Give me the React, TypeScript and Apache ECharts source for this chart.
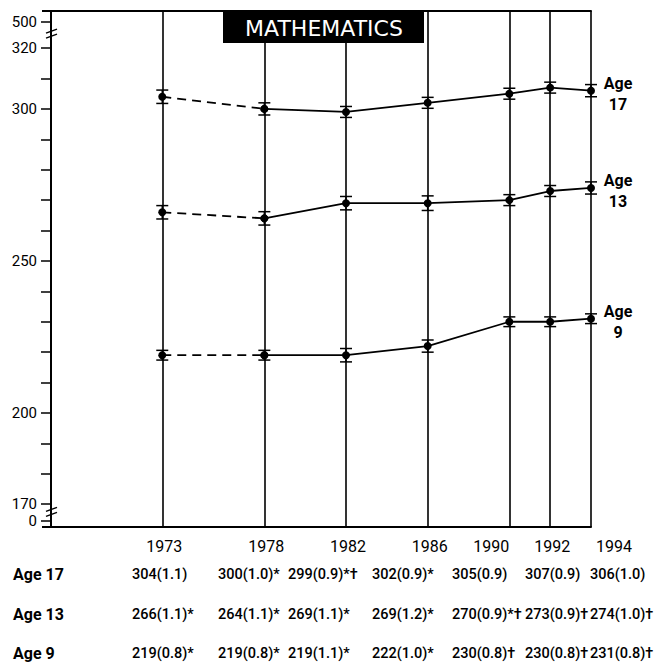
import React, { useEffect, useRef } from 'react';
import * as echarts from 'echarts';

// ---- data ----
const years = [1973, 1978, 1982, 1986, 1990, 1992, 1994];
const age17 = [304, 300, 299, 302, 305, 307, 306];
const age17SE = [1.1, 1.0, 0.9, 0.9, 0.9, 0.9, 1.0];
const age17Marks = ['', '*', '*†', '*', '', '', ''];
const age13 = [266, 264, 269, 269, 270, 273, 274];
const age13SE = [1.1, 1.1, 1.1, 1.2, 0.9, 0.9, 1.0];
const age13Marks = ['*', '*', '*', '*', '*†', '†', '†'];
const age9 = [219, 219, 219, 222, 230, 230, 231];
const age9SE = [0.8, 0.8, 1.1, 1.0, 0.8, 0.8, 0.8];
const age9Marks = ['*', '*', '*', '*', '†', '†', '†'];
const ageNames = ['Age 17', 'Age 13', 'Age 9'];
const ageShort = ['17', '13', '9'];

const yMinorTicks = [170, 180, 190, 200, 210, 220, 230, 240, 250, 260, 270, 280, 290, 300, 310, 320];
const yLabelTicks = [170, 200, 250, 300, 320];
// broken-scale tick labels (drawn at the ends of the axis)
const brokenLowLabel = '0';
const brokenHighLabel = '500';

const titleText = 'MATHEMATICS';

// ---- layout (not data) ----
const Y_MIN = 162.5;
const Y_MAX = 332.2;
const X_MIN = 1967.55;
const X_MAX = 1994;
const BROKEN_LOW_POS = 164.5;
const BROKEN_HIGH_POS = 328.6;
const BREAK_LOW = 167.3;
const BREAK_HIGH = 324.6;
const colX = [132, 218, 288, 372, 452, 525, 590];
const rowY = [574, 614, 653];

const FONT = 'Roboto, "Liberation Sans", sans-serif';

export default function App() {
  const ref = useRef<HTMLDivElement>(null);

  useEffect(() => {
    document.body.style.margin = '0';
    if (!ref.current) return;
    const chart = echarts.init(ref.current, null, { renderer: 'svg' });

    const seriesSets = [
      { vals: age17, se: age17SE, marks: age17Marks },
      { vals: age13, se: age13SE, marks: age13Marks },
      { vals: age9, se: age9SE, marks: age9Marks },
    ];

    const series: any[] = [];
    seriesSets.forEach((s, i) => {
      const pts = years.map((y, k) => [y, s.vals[k]]);
      series.push({
        type: 'line',
        name: ageNames[i] + ' dashed',
        data: pts.slice(0, 2),
        symbol: 'circle',
        symbolSize: 8,
        itemStyle: { color: '#000' },
        lineStyle: { color: '#000', width: 1.8, type: [9, 6] },
        z: 5,
      });
      series.push({
        type: 'line',
        name: ageNames[i],
        data: pts.slice(1),
        symbol: 'circle',
        symbolSize: 8,
        itemStyle: { color: '#000' },
        lineStyle: { color: '#000', width: 1.8 },
        endLabel: {
          show: true,
          formatter: 'Age\n' + ageShort[i],
          color: '#000',
          fontFamily: FONT,
          fontSize: 16,
          fontWeight: 'bold',
          lineHeight: 21,
          align: 'center',
          distance: 27,
          offset: [0, 3],
        },
        z: 5,
      });
      series.push({
        type: 'custom',
        name: ageNames[i] + ' error',
        data: years.map((y, k) => [y, s.vals[k], s.se[k]]),
        z: 4,
        renderItem: (params: any, api: any) => {
          const x = api.value(0);
          const y = api.value(1);
          const se = api.value(2);
          const top = api.coord([x, y + 2 * se]);
          const bot = api.coord([x, y - 2 * se]);
          const hw = 6;
          const st = { stroke: '#000', lineWidth: 1.5 };
          return {
            type: 'group',
            children: [
              { type: 'line', shape: { x1: top[0], y1: top[1], x2: bot[0], y2: bot[1] }, style: st },
              { type: 'line', shape: { x1: top[0] - hw, y1: top[1], x2: top[0] + hw, y2: top[1] }, style: st },
              { type: 'line', shape: { x1: bot[0] - hw, y1: bot[1], x2: bot[0] + hw, y2: bot[1] }, style: st },
            ],
          };
        },
      });
    });

    // vertical year lines
    series[1].markLine = {
      silent: true,
      symbol: ['none', 'none'],
      label: { show: false },
      lineStyle: { type: 'solid', color: '#000', width: 1.6 },
      data: years.map((y) => ({ xAxis: y })),
      z: 1,
    };

    const option: any = {
      animation: false,
      backgroundColor: '#fff',
      grid: { left: 51, top: 11, right: 79, bottom: 145, containLabel: false },
      xAxis: [
        {
          type: 'value',
          min: X_MIN,
          max: X_MAX,
          axisLine: { show: true, lineStyle: { color: '#000', width: 2 } },
          axisTick: { show: false },
          splitLine: { show: false },
          axisLabel: {
            customValues: years,
            formatter: (v: number) => {
              const y = Math.round(v);
              if (y === 1990) return `{l|${y}}`;
              if (y === 1994) return `{r|${y}}`;
              return `{n|${y}}`;
            },
            rich: {
              n: { fontFamily: FONT, fontSize: 16, color: '#000', padding: [0, 0, 0, 4] },
              l: { fontFamily: FONT, fontSize: 16, color: '#000', padding: [0, 36, 0, 0] },
              r: { fontFamily: FONT, fontSize: 16, color: '#000', padding: [0, 0, 0, 46] },
            },
            color: '#000',
            fontFamily: FONT,
            fontSize: 16,
            margin: 11,
          },
        },
        {
          type: 'value',
          position: 'top',
          min: X_MIN,
          max: X_MAX,
          axisLine: { show: true, lineStyle: { color: '#000', width: 2 } },
          axisTick: { show: false },
          axisLabel: { show: false },
          splitLine: { show: false },
        },
      ],
      yAxis: {
        type: 'value',
        min: Y_MIN,
        max: Y_MAX,
        axisLine: { show: true, lineStyle: { color: '#000', width: 2 } },
        axisTick: {
          show: true,
          inside: false,
          length: 10,
          customValues: [BROKEN_LOW_POS, ...yMinorTicks, BROKEN_HIGH_POS],
          lineStyle: { color: '#000', width: 1.5 },
        },
        splitLine: { show: false },
        axisLabel: {
          customValues: [BROKEN_LOW_POS, ...yLabelTicks, BROKEN_HIGH_POS],
          formatter: (v: number) => {
            if (Math.abs(v - BROKEN_LOW_POS) < 0.01) return brokenLowLabel;
            if (Math.abs(v - BROKEN_HIGH_POS) < 0.01) return brokenHighLabel;
            return String(Math.round(v));
          },
          color: '#000',
          fontFamily: FONT,
          fontSize: 15,
          margin: 14,
        },
      },
      series,
    };
    chart.setOption(option);

    // graphics: title, table, axis break marks
    const yLow = chart.convertToPixel({ yAxisIndex: 0 }, BREAK_LOW) as number;
    const yHigh = chart.convertToPixel({ yAxisIndex: 0 }, BREAK_HIGH) as number;
    const axX = chart.convertToPixel({ xAxisIndex: 0 }, X_MIN) as number;
    const yTop = chart.convertToPixel({ yAxisIndex: 0 }, Y_MAX) as number;
    const yBot = chart.convertToPixel({ yAxisIndex: 0 }, Y_MIN) as number;

    const breakMark = (yb: number) => ({
      type: 'group',
      children: [
        { type: 'rect', shape: { x: axX - 3, y: yb - 3, width: 6, height: 6 }, style: { fill: '#fff' } },
        { type: 'line', shape: { x1: axX - 5, y1: yb - 1, x2: axX + 6, y2: yb - 5 }, style: { stroke: '#000', lineWidth: 1.5 } },
        { type: 'line', shape: { x1: axX - 5, y1: yb + 4, x2: axX + 6, y2: yb }, style: { stroke: '#000', lineWidth: 1.5 } },
      ],
    });

    const tableRows = [
      { name: ageNames[0], vals: age17, se: age17SE, marks: age17Marks },
      { name: ageNames[1], vals: age13, se: age13SE, marks: age13Marks },
      { name: ageNames[2], vals: age9, se: age9SE, marks: age9Marks },
    ];
    const tableEls: any[] = [];
    tableRows.forEach((r, i) => {
      tableEls.push({
        type: 'text',
        x: 13,
        y: rowY[i],
        style: {
          text: r.name,
          fill: '#000',
          font: `bold 16px ${FONT}`,
          textAlign: 'left',
          textVerticalAlign: 'middle',
        },
      });
      r.vals.forEach((v, k) => {
        tableEls.push({
          type: 'text',
          x: colX[k],
          y: rowY[i],
          style: {
            text: `${v}(${r.se[k].toFixed(1)})${r.marks[k]}`,
            fill: '#000',
            font: `500 14.5px ${FONT}`,
            textAlign: 'left',
            textVerticalAlign: 'middle',
          },
        });
      });
    });

    chart.setOption({
      graphic: [
        { type: 'line', shape: { x1: axX - 9, y1: yTop, x2: axX, y2: yTop }, style: { stroke: '#000', lineWidth: 2 } },
        { type: 'line', shape: { x1: axX - 9, y1: yBot, x2: axX, y2: yBot }, style: { stroke: '#000', lineWidth: 2 } },
        breakMark(yLow),
        breakMark(yHigh),
        { type: 'rect', shape: { x: 223, y: 12, width: 201, height: 31 }, style: { fill: '#000' }, z: 10 },
        {
          type: 'text',
          x: 324,
          y: 28,
          z: 11,
          style: {
            text: titleText,
            fill: '#fff',
            font: '22px "DejaVu Sans", sans-serif',
            textAlign: 'center',
            textVerticalAlign: 'middle',
          },
        },
        ...tableEls,
      ],
    });

    return () => chart.dispose();
  }, []);

  return <div ref={ref} style={{ width: 670, height: 672 }} />;
}
